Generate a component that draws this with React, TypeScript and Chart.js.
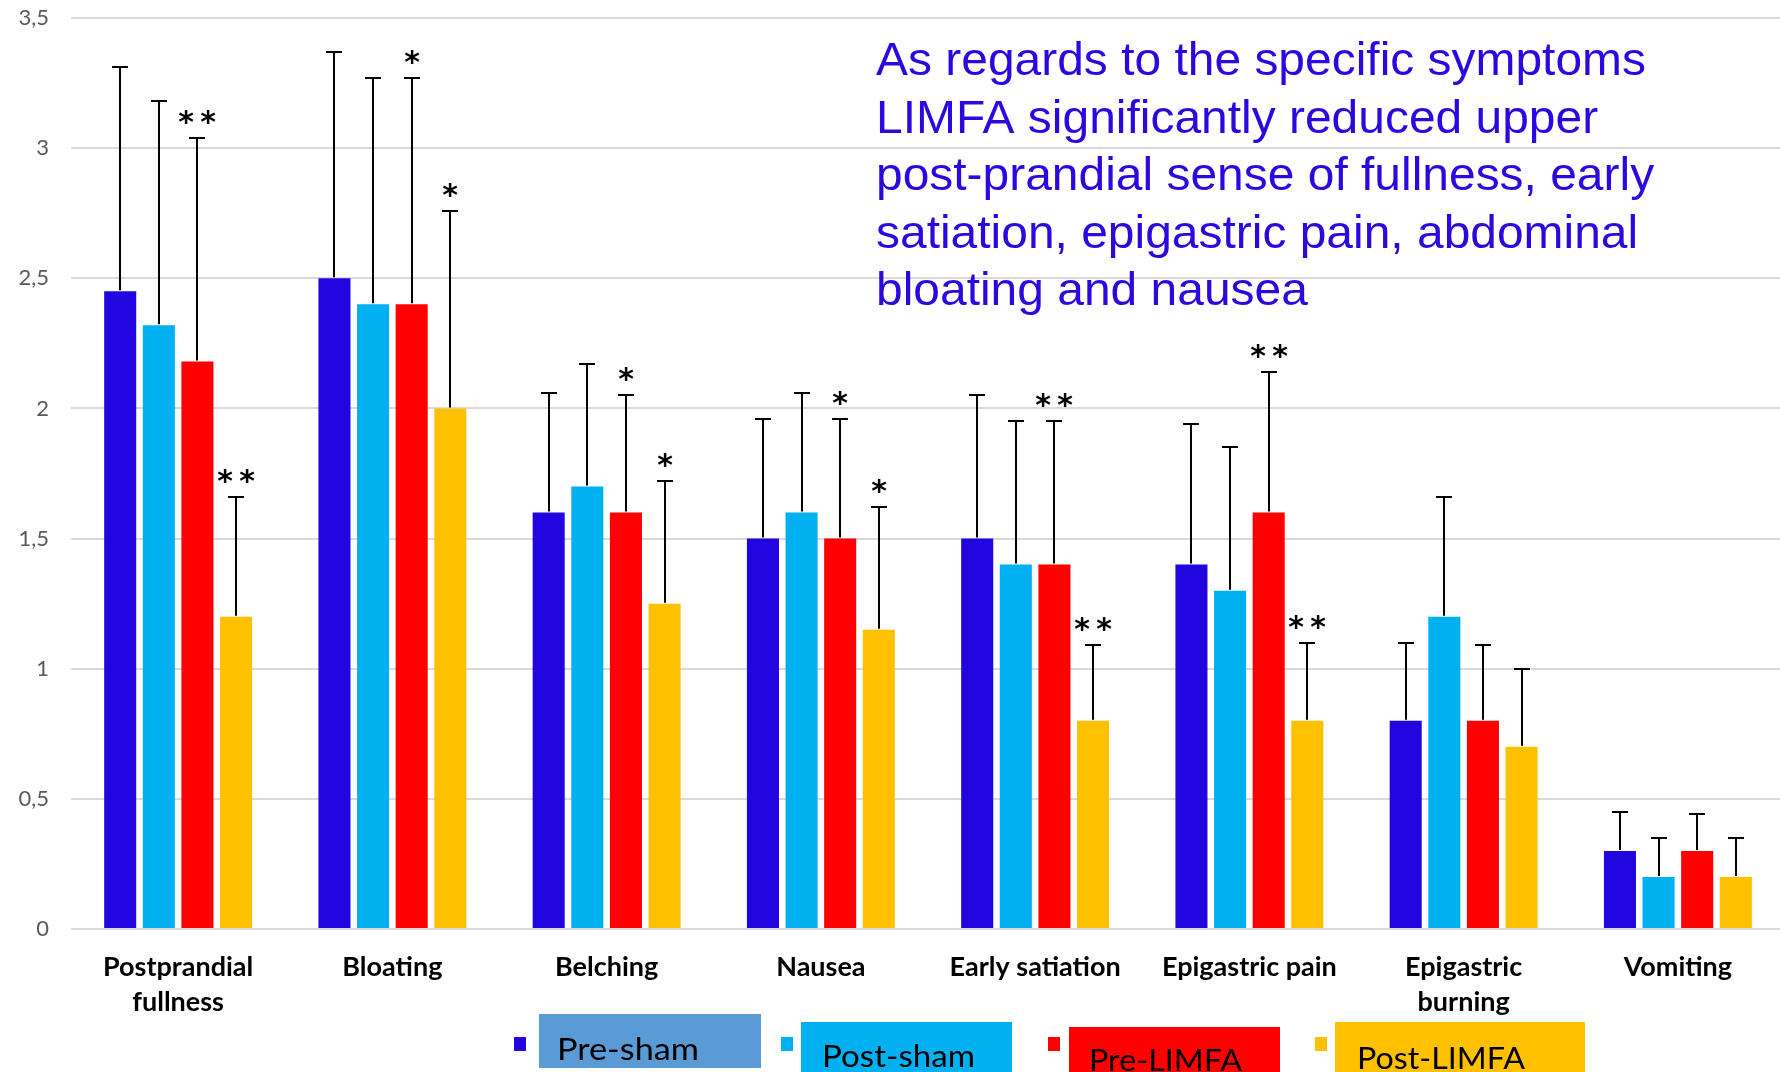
import React, { useEffect, useRef } from 'react';
import { Chart, registerables } from 'chart.js';

Chart.register(...registerables);

// ---- data ----
const categories: (string | string[])[] = [
  ['Postprandial', 'fullness'],
  'Bloating',
  'Belching',
  'Nausea',
  'Early satiation',
  'Epigastric pain',
  ['Epigastric', 'burning'],
  'Vomiting',
];
const seriesNames = ['Pre-sham', 'Post-sham', 'Pre-LIMFA', 'Post-LIMFA'];
const seriesColors = ['#2105DF', '#00B0F0', '#FF0000', '#FFC000'];
const legendBoxColors = ['#5B9BD5', '#00B0F0', '#FF0000', '#FFC000'];

const preSham = [2.45, 2.5, 1.6, 1.5, 1.5, 1.4, 0.8, 0.3];
const postSham = [2.32, 2.4, 1.7, 1.6, 1.4, 1.3, 1.2, 0.2];
const preLimfa = [2.18, 2.4, 1.6, 1.5, 1.4, 1.6, 0.8, 0.3];
const postLimfa = [1.2, 2.0, 1.25, 1.15, 0.8, 0.8, 0.7, 0.2];

const preShamSD = [0.86, 0.87, 0.46, 0.46, 0.55, 0.54, 0.3, 0.15];
const postShamSD = [0.86, 0.87, 0.47, 0.46, 0.55, 0.55, 0.46, 0.15];
const preLimfaSD = [0.86, 0.87, 0.45, 0.46, 0.55, 0.54, 0.29, 0.14];
const postLimfaSD = [0.46, 0.76, 0.47, 0.47, 0.29, 0.3, 0.3, 0.15];

const preShamSig = ['', '', '', '', '', '', '', ''];
const postShamSig = ['', '', '', '', '', '', '', ''];
const preLimfaSig = ['**', '*', '*', '*', '**', '**', '', ''];
const postLimfaSig = ['**', '*', '*', '*', '**', '**', '', ''];

const yMin = 0;
const yMax = 3.5;
const yStep = 0.5;

const noteLines = [
  'As regards to the specific symptoms',
  'LIMFA significantly reduced upper',
  'post-prandial sense of fullness, early',
  'satiation, epigastric pain, abdominal',
  'bloating and nausea',
];

const seriesValues = [preSham, postSham, preLimfa, postLimfa];
const seriesSD = [preShamSD, postShamSD, preLimfaSD, postLimfaSD];
const seriesSig = [preShamSig, postShamSig, preLimfaSig, postLimfaSig];

// legend overlay geometry (boxes covering the legend text)
const legendSquareX = [514, 781, 1048, 1315];
const legendBoxes = [
  { x: 539, y: 1014, w: 222, h: 54, tx: 557, tw: 142, base: 1060 },
  { x: 801, y: 1022, w: 211, h: 60, tx: 822, tw: 153, base: 1067 },
  { x: 1069, y: 1027, w: 211, h: 60, tx: 1089, tw: 153, base: 1071 },
  { x: 1335, y: 1022, w: 250, h: 60, tx: 1357, tw: 168, base: 1069 },
];

const overlayPlugin = {
  id: 'overlay',
  afterDatasetsDraw(chart: any) {
    const ctx: CanvasRenderingContext2D = chart.ctx;
    const ys = chart.scales.y;
    ctx.save();
    ctx.strokeStyle = '#000000';
    ctx.lineWidth = 2;
    seriesValues.forEach((vals, di) => {
      const meta = chart.getDatasetMeta(di);
      vals.forEach((v, j) => {
        const bar = meta.data[j];
        const x = Math.round(bar.x);
        const y0 = ys.getPixelForValue(v);
        const y1 = Math.round(ys.getPixelForValue(v + seriesSD[di][j]));
        ctx.beginPath();
        ctx.moveTo(x, y0 - 1);
        ctx.lineTo(x, y1);
        ctx.moveTo(x - 8, y1);
        ctx.lineTo(x + 8, y1);
        ctx.stroke();
        const sig = seriesSig[di][j];
        if (sig) {
          ctx.fillStyle = '#000000';
          ctx.font = 'bold 30px "DejaVu Sans"';
          ctx.textAlign = 'center';
          ctx.textBaseline = 'alphabetic';
          const m = ctx.measureText('*');
          const center = y1 - 21;
          const base = center + (m.actualBoundingBoxAscent - m.actualBoundingBoxDescent) / 2;
          const n = sig.length;
          for (let k = 0; k < n; k++) {
            const off = (k - (n - 1) / 2) * 22;
            ctx.fillText('*', x + off, base);
          }
        }
      });
    });
    ctx.restore();
  },
  afterDraw(chart: any) {
    const ctx: CanvasRenderingContext2D = chart.ctx;
    ctx.save();
    // annotation text
    ctx.fillStyle = '#2A08E0';
    ctx.font = '46px "Liberation Sans", Arial, sans-serif';
    ctx.textAlign = 'left';
    ctx.textBaseline = 'alphabetic';
    const w0 = ctx.measureText(noteLines[0]).width;
    const sx = 770 / w0;
    noteLines.forEach((line, i) => {
      ctx.save();
      ctx.translate(876, 75 + i * 57.5);
      ctx.scale(sx, 1);
      ctx.fillText(line, 0, 0);
      ctx.restore();
    });

    // legend squares
    seriesColors.forEach((c, i) => {
      ctx.fillStyle = c;
      ctx.fillRect(legendSquareX[i], 1037, 12, 14);
    });
    // legend boxes with labels
    legendBoxes.forEach((b, i) => {
      ctx.fillStyle = legendBoxColors[i];
      ctx.fillRect(b.x, b.y, b.w, b.h);
      ctx.fillStyle = '#000000';
      ctx.font = '31px Lato, "Open Sans", sans-serif';
      const tw = ctx.measureText(seriesNames[i]).width;
      ctx.save();
      ctx.translate(b.tx, b.base);
      ctx.scale(b.tw / tw, 1);
      ctx.fillText(seriesNames[i], 0, 0);
      ctx.restore();
    });
    ctx.restore();
  },
};

export default function App() {
  const canvasRef = useRef<HTMLCanvasElement | null>(null);
  useEffect(() => {
    const canvas = canvasRef.current;
    if (!canvas) return;
    const chart = new Chart(canvas, {
      type: 'bar',
      data: {
        labels: categories,
        datasets: seriesNames.map((name, i) => ({
          label: name,
          data: seriesValues[i],
          backgroundColor: seriesColors[i],
          borderWidth: 0,
          categoryPercentage: 0.721,
          barPercentage: 0.83,
        })),
      },
      options: {
        responsive: false,
        animation: false,
        devicePixelRatio: 1,
        layout: { padding: { top: 18, left: 0, right: 1, bottom: 0 } },
        plugins: {
          legend: { display: false },
          tooltip: { enabled: false },
          title: { display: false },
        },
        scales: {
          x: {
            grid: { display: false },
            border: { display: false },
            ticks: {
              color: '#000000',
              padding: 13,
              maxRotation: 0,
              autoSkip: false,
              font: { family: 'Lato, "Open Sans", sans-serif', size: 27, weight: 'bold', lineHeight: 1.3 },
            },
            afterFit: (s: any) => {
              s.height = 143;
            },
          },
          y: {
            min: yMin,
            max: yMax,
            ticks: {
              stepSize: yStep,
              color: '#595959',
              padding: 22,
              font: { family: 'Lato, "Open Sans", sans-serif', size: 22 },
              callback: (v: any) => String(v).replace('.', ','),
            },
            grid: { color: '#D9D9D9', lineWidth: 2, drawTicks: false },
            border: { display: false },
            afterFit: (s: any) => {
              s.width = 71;
              s.paddingTop = 0;
              s.paddingBottom = 0;
            },
          },
        },
      },
      plugins: [overlayPlugin],
    });
    return () => chart.destroy();
  }, []);

  return (
    <div
      style={{
        position: 'fixed',
        left: 0,
        top: 0,
        width: 1780,
        height: 1072,
        overflow: 'hidden',
        background: '#ffffff',
      }}
    >
      <canvas ref={canvasRef} width={1786} height={1072} style={{ display: 'block' }} />
    </div>
  );
}
